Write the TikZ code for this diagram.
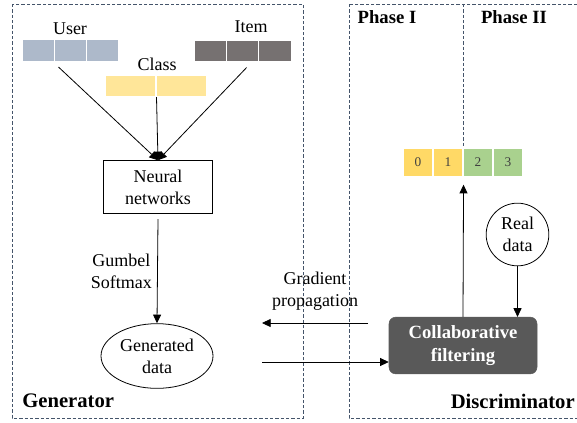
\documentclass[tikz,border=0pt]{standalone}
\usepackage{fontspec}
\setmainfont{Liberation Serif}
\usetikzlibrary{arrows.meta,shapes.geometric}

\definecolor{userblue}{HTML}{ADB9CA}
\definecolor{itemgrey}{HTML}{767171}
\definecolor{classyellow}{HTML}{FFE699}
\definecolor{phaseyellow}{HTML}{FFD966}
\definecolor{phasegreen}{HTML}{A9D18E}
\definecolor{cfgrey}{HTML}{595959}
\definecolor{boxblue}{HTML}{44546A}

\tikzset{
	txt/.style={font=\fontsize{13.5}{16.5}\selectfont, inner sep=0pt, align=center},
	bigtxt/.style={font=\fontsize{15.5}{18}\selectfont\bfseries, inner sep=0pt},
	region/.style={draw=boxblue, line width=0.6pt, dash pattern=on 2.5pt off 1.5pt},
	cell/.style={draw=white, line width=0.8pt, minimum width=24.2pt, minimum height=16pt, inner sep=0pt},
	vcell/.style={draw=white, line width=0.8pt, minimum width=22.5pt, minimum height=20.5pt, inner sep=0pt,
		font=\fontsize{10}{12}\selectfont, text=black!75},
	conn/.style={line width=0.6pt, -{Triangle[length=6.5pt, width=6pt]}},
}

\begin{document}
\begin{tikzpicture}[x=0.75pt, y=-0.75pt]
	%%%%% START %%%%%
	\useasboundingbox (0, 0) rectangle (577, 422);

	% dashed regions
	\draw[region] (12, 4) rectangle (303, 418);
	\draw[region] (349, 4) rectangle (577, 418);
	\draw[region] (463, 4) -- (463, 148);

	% generator side
	\node[txt] (userlbl) at (70, 29) {User};
	\node[txt] (itemlbl) at (251, 27) {Item};
	\node[txt] (classlbl) at (157, 64) {Class};

	\foreach \i in {0, 1, 2} {
		\node[cell, fill=userblue] (u\i) at ({38.2+32.3*\i}, 50.5) {};
		\node[cell, fill=itemgrey] (it\i) at ({210.3+32.3*\i}, 51) {};
	}
	\foreach \i in {0, 1} {
		\node[cell, fill=classyellow, minimum width=38.2pt] (c\i) at ({130.5+51*\i}, 86) {};
	}

	\node[txt, draw, line width=0.6pt, minimum width=82pt, minimum height=39.5pt] (nn) at (158, 187) {Neural\\networks};
	\node[txt, draw, ellipse, line width=0.6pt, minimum width=84pt, minimum height=48.5pt] (gen) at (157, 356) {Generated\\data};

	\draw[conn] ([xshift=-9pt, yshift=-4pt]u1.south) -- (nn.north);
	\draw[conn] (c0.south east) -- (nn.north);
	\draw[conn] ([xshift=3pt, yshift=-4pt]it1.south) -- (nn.north);
	\draw[conn] ([yshift=-4pt]nn.south) -- node[txt, left=4pt] {Gumbel\\Softmax} (gen.north);

	\node[bigtxt, anchor=west] (genlbl) at (22, 401) {Generator};

	% discriminator side
	\node[bigtxt, font=\fontsize{14}{16}\selectfont\bfseries] (ph1) at (387, 17) {Phase I};
	\node[bigtxt, font=\fontsize{14}{16}\selectfont\bfseries] (ph2) at (514, 17) {Phase II};

	\foreach \i/\c in {0/phaseyellow, 1/phaseyellow, 2/phasegreen, 3/phasegreen} {
		\node[vcell, fill=\c] (v\i) at ({418+30*\i}, 162.5) {\i};
	}

	\node[txt, draw, circle, line width=0.6pt, minimum size=47pt] (real) at (517.5, 234.5) {Real\\data};
	\node[txt, draw=cfgrey, fill=cfgrey, rounded corners=5pt, text=white, font=\fontsize{14}{17}\selectfont\bfseries,
		minimum width=111pt, minimum height=42.5pt] (cf) at (463, 345.5) {Collaborative\\filtering};

	\draw[conn] (cf.north) -- ([yshift=-6pt]v1.south east);
	\draw[conn] (real.south) -- (real.south |- cf.north);

	\coordinate (gradL) at (262, 323);
	\coordinate (gradR) at (368, 323);
	\coordinate (fwdL) at (262, 362);
	\draw[conn] (gradR) -- node[txt, above=9pt] {Gradient\\propagation} (gradL);
	\draw[conn] (fwdL) -- (fwdL -| cf.west);

	\node[bigtxt, anchor=east] (dislbl) at (575, 401) {Discriminator};
	%%%%% END %%%%%
\end{tikzpicture}
\end{document}
